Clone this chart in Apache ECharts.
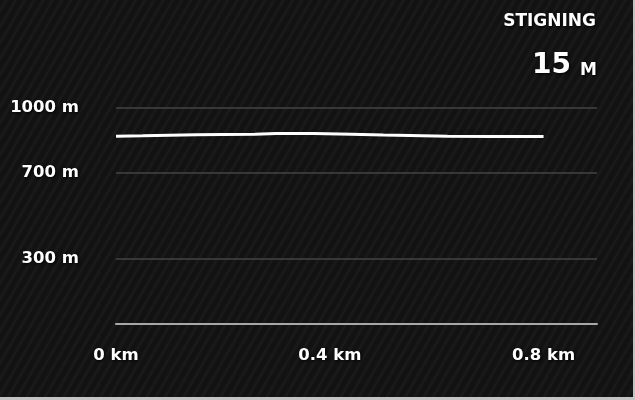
<!DOCTYPE html>
<html>
<head>
<meta charset="utf-8">
<script src="https://cdn.jsdelivr.net/npm/echarts@6/dist/echarts.min.js"></script>
<style>
  html, body { margin: 0; padding: 0; width: 635px; height: 400px; background: #c4c4c4; overflow: hidden; }
  #wrap {
    position: absolute; left: 0; top: 0; width: 633px; height: 397px;
    background-color: #141414;
    background-image: repeating-linear-gradient(120deg, #121212 0px, #121212 3px, #1b1b1b 5.5px, #121212 8px);
  }
  #chart { width: 633px; height: 397px; }
</style>
</head>
<body>
<div id="wrap"><div id="chart"></div></div>
<script>
// Distance along route (km) and elevation (m)
const distanceKm = [0, 0.05, 0.1, 0.15, 0.2, 0.26, 0.3, 0.37, 0.44, 0.5, 0.55, 0.62, 0.7, 0.8];
const elevationM = [869, 871, 874, 876, 877, 878, 882, 882, 879, 875, 873, 869, 868, 868];
const yTickValues = [0, 300, 700, 1000];
const yLabelValues = [300, 700, 1000];
const xTickValues = [0, 0.4, 0.8];
const statTitle = 'STIGNING';
const statValue = '15';
const statUnit = 'M';

const seriesData = distanceKm.map((d, i) => [d, elevationM[i]]);

const chart = echarts.init(document.getElementById('chart'), null, { renderer: 'canvas' });
const fontFam = '"DejaVu Sans", Verdana, sans-serif';
const shadow = { textShadowColor: '#000', textShadowBlur: 3, textShadowOffsetX: 1, textShadowOffsetY: 1 };

chart.setOption({
  backgroundColor: 'transparent',
  animation: false,
  graphic: [
    {
      type: 'text',
      right: 37,
      top: 13,
      style: Object.assign({ text: statTitle, fill: '#fff', font: 'bold 17px ' + fontFam }, shadow)
    },
    {
      type: 'text',
      right: 62,
      top: 52,
      style: Object.assign({ text: statValue, fill: '#fff', font: 'bold 28px ' + fontFam }, shadow)
    },
    {
      type: 'text',
      right: 36,
      top: 62,
      style: Object.assign({ text: statUnit, fill: '#fff', font: 'bold 17px ' + fontFam }, shadow)
    }
  ],
  grid: { left: 116, right: 36, top: 108, bottom: 73, containLabel: false },
  xAxis: {
    type: 'value',
    min: 0,
    max: 0.9,
    interval: 0.4,
    axisLine: { show: true, lineStyle: { color: '#a8a8a8', width: 2 } },
    axisTick: { show: false, customValues: xTickValues },
    splitLine: { show: false },
    axisLabel: Object.assign({
      customValues: xTickValues,
      color: '#fff', fontFamily: fontFam, fontWeight: 'bold', fontSize: 16.5,
      margin: 23,
      formatter: v => v + ' km'
    }, shadow)
  },
  yAxis: {
    type: 'value',
    min: 0,
    max: 1000,
    axisLine: { show: false },
    axisTick: { show: false, customValues: yTickValues },
    splitLine: { show: true, lineStyle: { color: '#444444', width: 1.5 } },
    axisLabel: Object.assign({
      customValues: yLabelValues,
      color: '#fff', fontFamily: fontFam, fontWeight: 'bold', fontSize: 16.5,
      margin: 37,
      formatter: v => v + ' m'
    }, shadow)
  },
  series: [{
    type: 'line',
    data: seriesData,
    showSymbol: false,
    symbol: 'none',
    smooth: false,
    lineStyle: { color: '#ffffff', width: 3 }
  }]
});
</script>
</body>
</html>
